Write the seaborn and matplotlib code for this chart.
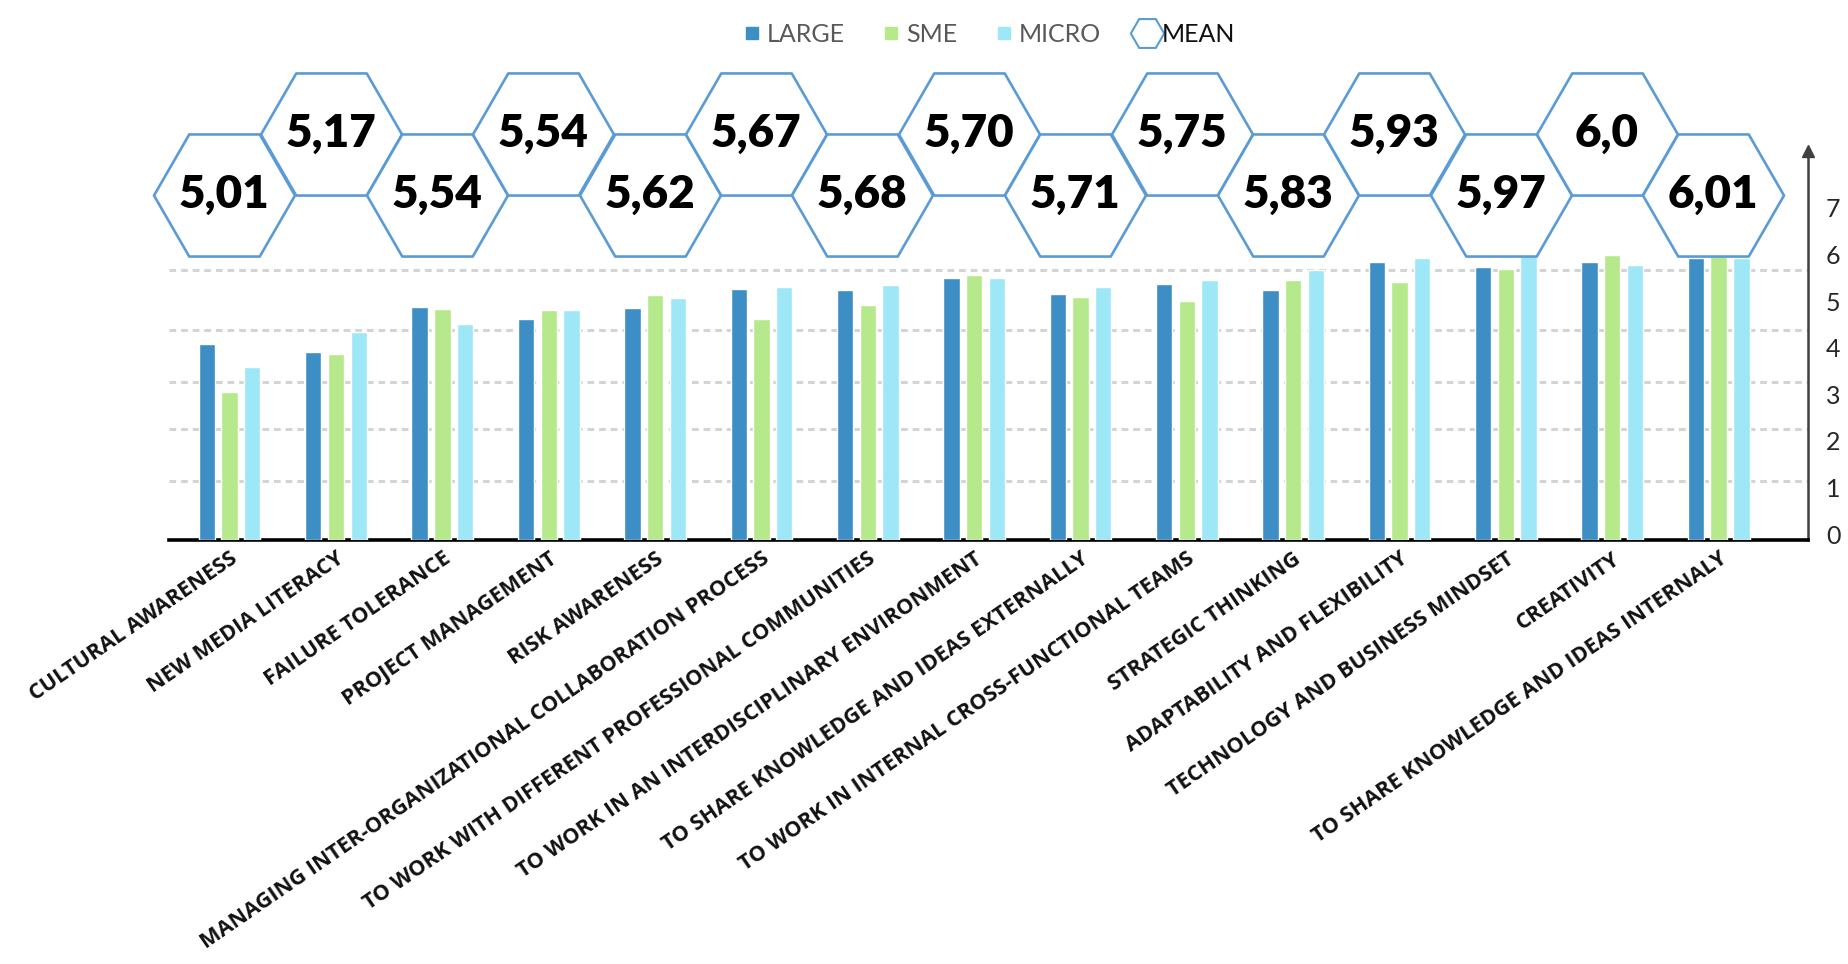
import numpy as np
import pandas as pd
import seaborn as sns
import matplotlib.pyplot as plt
import matplotlib.transforms as mtransforms
from matplotlib.lines import Line2D

categories = [
    "CULTURAL AWARENESS",
    "NEW MEDIA LITERACY",
    "FAILURE TOLERANCE",
    "PROJECT MANAGEMENT",
    "RISK AWARENESS",
    "MANAGING INTER-ORGANIZATIONAL COLLABORATION PROCESS",
    "TO WORK WITH DIFFERENT PROFESSIONAL COMMUNITIES",
    "TO WORK IN AN INTERDISCIPLINARY ENVIRONMENT",
    "TO SHARE KNOWLEDGE AND IDEAS EXTERNALLY",
    "TO WORK IN INTERNAL CROSS-FUNCTIONAL TEAMS",
    "STRATEGIC THINKING",
    "ADAPTABILITY AND FLEXIBILITY",
    "TECHNOLOGY AND BUSINESS MINDSET",
    "CREATIVITY",
    "TO SHARE KNOWLEDGE AND IDEAS INTERNALY",
]
large = [4.20, 4.04, 5.00, 4.74, 4.99, 5.38, 5.37, 5.62, 5.28, 5.49, 5.37, 5.96, 5.86, 5.96, 6.06]
sme = [3.18, 3.99, 4.95, 4.94, 5.26, 4.74, 5.05, 5.68, 5.21, 5.12, 5.58, 5.53, 5.81, 6.11, 6.10]
micro = [3.72, 4.47, 4.63, 4.94, 5.20, 5.43, 5.48, 5.63, 5.43, 5.58, 5.80, 6.06, 6.29, 5.91, 6.06]
means = [5.01, 5.17, 5.54, 5.54, 5.62, 5.67, 5.68, 5.70, 5.71, 5.75, 5.83, 5.93, 5.97, 6.0, 6.01]
mean_labels = ["5,01", "5,17", "5,54", "5,54", "5,62", "5,67", "5,68", "5,70",
               "5,71", "5,75", "5,83", "5,93", "5,97", "6,0", "6,01"]
series_names = ["LARGE", "SME", "MICRO"]
y_ticks = [0, 1, 2, 3, 4, 5, 6, 7]

colors = {"LARGE": "#3d8ec4", "SME": "#b6e98b", "MICRO": "#9de7f6"}
hex_color = "#5b9bd5"

df = pd.DataFrame({
    "skill": categories * 3,
    "size": sum([[s] * len(categories) for s in series_names], []),
    "value": large + sme + micro,
})

sns.set_theme(style="white")
plt.rcParams["font.family"] = ["Lato", "DejaVu Sans"]

W, H = 1849, 964
fig = plt.figure(figsize=(W / 100, H / 100), dpi=100)
left_px, right_px, base_px, top_px = 169, 1808, 540, 151
ax = fig.add_axes([left_px / W, 1 - base_px / H,
                   (right_px - left_px) / W, (base_px - top_px) / H])

sns.barplot(data=df, x="skill", y="value", hue="size", hue_order=series_names,
            palette=colors, width=0.64, gap=0.28, saturation=1, legend=False,
            ax=ax, zorder=3)

ax.set_xlim(-0.57, 14.84)
ax.set_ylim(0, 8.35)

# dotted grid lines
for g in [1.27, 2.38, 3.39, 4.51, 5.80]:
    ax.axhline(g, color="#d4d4d4", linestyle=(0, (2.2, 1.6)), lw=2.2, zorder=0)

# spines
for s in ["top", "left"]:
    ax.spines[s].set_visible(False)
ax.spines["bottom"].set_color("black")
ax.spines["bottom"].set_linewidth(2.6)
ax.spines["right"].set_color("#404040")
ax.spines["right"].set_linewidth(1.8)
ax.plot([1], [1], marker="^", ms=9, color="#404040", transform=ax.transAxes,
        clip_on=False, zorder=6)

# y ticks on right
ax.yaxis.tick_right()
ax.set_yticks(y_ticks)
ax.set_yticklabels([str(t) for t in y_ticks], fontsize=18, color="#262626")
ax.tick_params(axis="y", length=0, pad=13)
shift = mtransforms.ScaledTranslation(0, 6 / 100, fig.dpi_scale_trans)
for lab in ax.get_yticklabels():
    lab.set_transform(lab.get_transform() + shift)

# x tick labels
ax.set_xticks(range(len(categories)))
ax.set_xticklabels(categories, rotation=34.5, ha="right", va="top",
                   rotation_mode="anchor", fontsize=15.6, fontweight="bold",
                   family=["Open Sans", "DejaVu Sans"], color="#111111")
ax.tick_params(axis="x", length=0, pad=6)
ax.set_xlabel("")
ax.set_ylabel("")

# mean hexagons
hex_w_pt = 141 * 72 / 100
xs = np.arange(len(means)) - 0.05
ys = np.where(np.arange(len(means)) % 2 == 0, 7.41, 8.72)
ax.scatter(xs, ys, marker="H", s=hex_w_pt ** 2, facecolor="white",
           edgecolor=hex_color, linewidths=1.9, clip_on=False, zorder=5)
for x, y, lab in zip(xs, ys, mean_labels):
    ax.text(x, y, lab, ha="center", va="center", fontsize=33, fontweight="heavy",
            color="black", zorder=7, clip_on=False)

# legend
handles = [Line2D([], [], marker="s", linestyle="", color=colors[s], markersize=8)
           for s in series_names]
handles.append(Line2D([], [], marker="H", linestyle="", markerfacecolor="white",
                      markeredgecolor=hex_color, markeredgewidth=1.5, markersize=24))
leg = fig.legend(handles, series_names + ["MEAN"], loc="upper center",
                 bbox_to_anchor=(0.535, 1.0), ncol=4, frameon=False, fontsize=18,
                 handlelength=0.7, handletextpad=0.25, columnspacing=1.5)
for t in leg.get_texts():
    t.set_color("#595959")
leg.get_texts()[-1].set_color("#111111")

fig.savefig("out.png", dpi=100)
